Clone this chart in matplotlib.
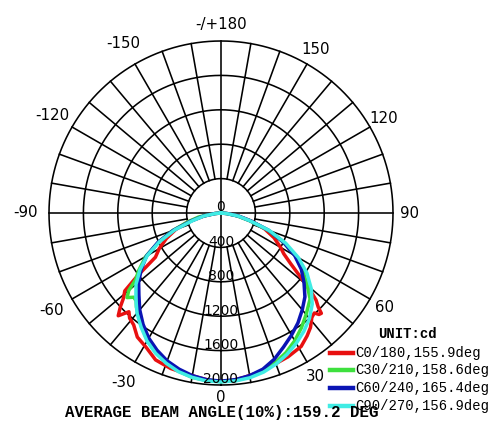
import numpy as np
import matplotlib
matplotlib.use("Agg")
import matplotlib.pyplot as plt
from matplotlib.lines import Line2D

# C0/180
red_ang = [-90, -85, -80, -75, -70, -65, -60, -56, -53, -51, -49, -47, -45, -43, -41, -38, -34, -29, -24, -18, -13, -8, -4, 0,
           4, 8, 13, 18, 25, 31, 35, 38, 41, 43, 44, 45, 46, 47.5, 49, 51, 54, 57, 60, 65, 70, 75, 80, 85, 90]
red_val = [0, 70, 200, 400, 560, 700, 830, 920, 1220, 1440, 1500, 1600, 1690, 1570, 1620, 1650, 1740, 1790, 1870, 1900, 1910, 1930, 1950, 1960,
           1950, 1930, 1905, 1875, 1845, 1810, 1745, 1690, 1610, 1590, 1640, 1650, 1570, 1500, 1380, 1200, 1000, 870, 800, 680, 540, 370, 200, 70, 0]

# C30/210
green_ang = [-90, -85, -80, -75, -70, -65, -60, -55, -52, -50, -48, -46, -44, -42, -38, -35, -31, -25, -20, -15, -10, -5, 0,
             5, 10, 15, 20, 25, 30, 35, 40, 44, 46, 50, 55, 60, 65, 70, 75, 80, 85, 90]
green_val = [0, 70, 260, 400, 600, 800, 1010, 1170, 1260, 1400, 1470, 1410, 1420, 1470, 1545, 1610, 1690, 1790, 1855, 1905, 1940, 1955, 1960,
             1955, 1935, 1900, 1850, 1790, 1715, 1630, 1540, 1470, 1440, 1310, 1160, 1000, 800, 580, 340, 190, 60, 0]

# C60/240
blue_ang = list(range(-90, 95, 5))
blue_val = [0, 70, 210, 360, 590, 810, 1000, 1130, 1250, 1350, 1470, 1580, 1680, 1760, 1830, 1880, 1920, 1945, 1955,
            1945, 1920, 1880, 1810, 1720, 1640, 1560, 1470, 1380, 1260, 1140, 990, 800, 590, 360, 210, 70, 0]

# C90/270
cyan_ang = list(range(-90, 95, 5))
cyan_val = [0, 60, 200, 340, 570, 790, 990, 1150, 1290, 1400, 1520, 1620, 1720, 1800, 1860, 1910, 1940, 1960, 1965,
            1960, 1945, 1915, 1870, 1815, 1750, 1680, 1600, 1500, 1370, 1220, 1040, 830, 600, 350, 200, 60, 0]

series_names = ["C0/180,155.9deg", "C30/210,158.6deg", "C60/240,165.4deg", "C90/270,156.9deg"]
series_colors = ["#e81010", "#3ee03e", "#0a14b4", "#40ece4"]

radial_ticks = [0, 400, 800, 1200, 1600, 2000]
angle_ticks = [0, 30, 60, 90, 120, 150, 180, -150, -120, -90, -60, -30]
angle_labels = ["0", "30", "60", "90", "120", "150", "-/+180", "-150", "-120", "-90", "-60", "-30"]

W, H = 500, 447
fig = plt.figure(figsize=(W / 100, H / 100), dpi=100)
fig.patch.set_facecolor("white")

# polar area: centre (221,213) px, radius 172 px
cx, cy, R = 221, 213, 172
ax = fig.add_axes([(cx - R) / W, (H - cy - R) / H, 2 * R / W, 2 * R / H], projection="polar")
ax.set_theta_zero_location("S")
ax.set_theta_direction(1)
ax.set_ylim(0, 2000)
ax.grid(False)
ax.set_xticks([])
ax.set_yticks([])
ax.spines["polar"].set_visible(False)
ax.patch.set_visible(False)

# grid
th = np.linspace(0, 2 * np.pi, 721)
for r in radial_ticks[1:]:
    ax.plot(th, np.full_like(th, r), color="black", lw=1.15, clip_on=False, zorder=1)
for a in range(0, 360, 10):
    r0 = 0 if a % 90 == 0 else 400
    ax.plot([np.radians(a)] * 2, [r0, 2000], color="black", lw=1.15, clip_on=False, zorder=1)

# curves
for angs, vals, col in zip([red_ang, green_ang, blue_ang, cyan_ang],
                           [red_val, green_val, blue_val, cyan_val], series_colors):
    ax.plot(np.radians(angs), vals, color=col, lw=2.5, solid_joinstyle="round", zorder=3)

# radial labels
for v in radial_ticks:
    ax.annotate(str(v), xy=(0, v), xytext=(0, 4), textcoords="offset points",
                ha="center", va="center", fontsize=10, family="DejaVu Sans", zorder=5)

# angle labels
for a, lab in zip(angle_ticks, angle_labels):
    if a == 0:
        rr = 2140
    elif a < 0:
        rr = 2270
    else:
        rr = 2190
    ax.text(np.radians(a), rr, lab, ha="center", va="center", fontsize=10.8, family="DejaVu Sans")

# legend
def fx(p):
    return p / W

def fy(p):
    return 1 - p / H

fig.text(fx(378), fy(334), "UNIT:cd", family="Liberation Mono", weight="bold", fontsize=10,
         ha="left", va="center")
for i, (name, col) in enumerate(zip(series_names, series_colors)):
    y = 352.5 + i * 17.7
    fig.add_artist(Line2D([fx(330), fx(353)], [fy(y), fy(y)], color=col, lw=3.2))
    fig.text(fx(355), fy(y), name, family="Liberation Mono", fontsize=10, ha="left", va="center")

fig.text(fx(65), fy(412.5), "AVERAGE BEAM ANGLE(10%):159.2 DEG", family="Liberation Mono",
         weight="bold", fontsize=11.3, ha="left", va="center")

fig.savefig("out.png", dpi=100)
